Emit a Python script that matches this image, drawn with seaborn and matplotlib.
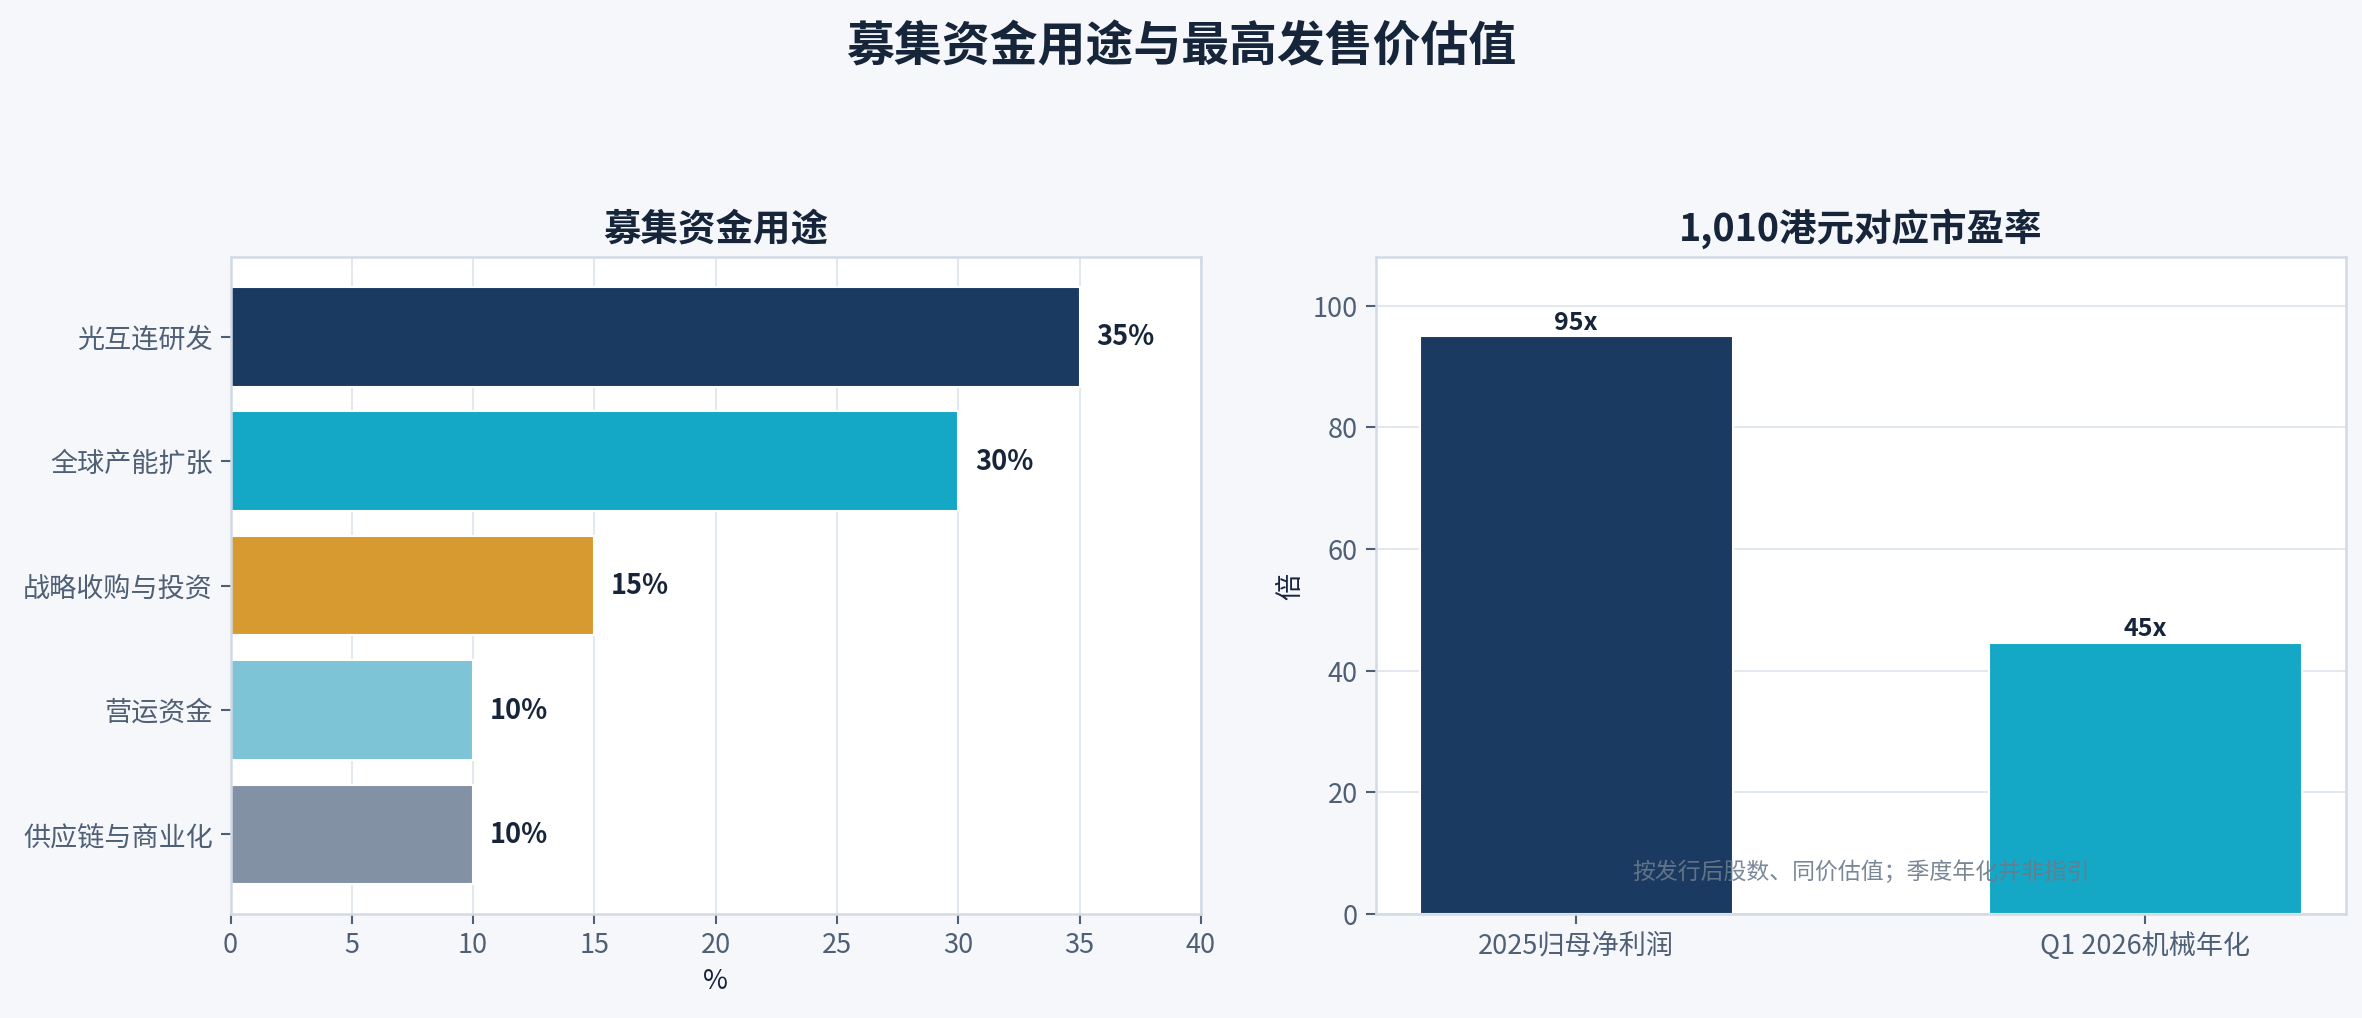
import matplotlib.pyplot as plt
import seaborn as sns

# 数据
use_labels = ["光互连研发", "全球产能扩张", "战略收购与投资", "营运资金", "供应链与商业化"]
use_pct = [35, 30, 15, 10, 10]
use_colors = ["#1a3a61", "#15a8c6", "#d69a30", "#7cc4d6", "#8391a5"]

pe_labels = ["2025归母净利润", "Q1 2026机械年化"]
pe_values = [95.0, 44.6]
pe_colors = ["#1a3a61", "#15a8c6"]

note = "按发行后股数、同价估值；季度年化并非指引"

sns.set_theme(style="whitegrid")
plt.rcParams["font.family"] = ["Noto Sans CJK SC", "DejaVu Sans"]
plt.rcParams["axes.unicode_minus"] = False

BG = "#f5f7fb"
DARK = "#17253b"
TICK = "#4f5f75"
GRID = "#e3e8ef"
SPINE = "#d3dae5"

fig, (ax1, ax2) = plt.subplots(1, 2, figsize=(15.75, 6.79), dpi=150)
fig.patch.set_facecolor(BG)
fig.subplots_adjust(left=0.0976, right=0.993, top=0.747, bottom=0.102, wspace=0.18)

# 左图：募集资金用途
sns.barplot(x=use_pct, y=use_labels, hue=use_labels, palette=use_colors,
            orient="h", width=0.8, legend=False, saturation=1, ax=ax1)
ax1.set_ylim(len(use_labels) - 0.36, -0.64)
ax1.set_xlim(0, 40)
ax1.set_xticks(range(0, 41, 5))
ax1.set_xlabel("%", fontsize=13, color=DARK)
ax1.set_ylabel("")
ax1.set_title("募集资金用途", fontsize=18, fontweight="bold", color=DARK, pad=8)
for i, v in enumerate(use_pct):
    ax1.annotate(f"{v}%", (v, i), xytext=(8, 0), textcoords="offset points",
                 va="center", ha="left", fontsize=13, fontweight="bold", color=DARK)
ax1.xaxis.grid(True, color=GRID, linewidth=1)
ax1.yaxis.grid(False)

# 右图：市盈率
sns.barplot(x=pe_labels, y=pe_values, hue=pe_labels, palette=pe_colors,
            width=0.55, legend=False, saturation=1, ax=ax2)
ax2.set_xlim(-0.3525, 1.3525)
ax2.set_ylim(0, 108)
ax2.set_yticks(range(0, 101, 20))
ax2.set_ylabel("倍", fontsize=13, color=DARK)
ax2.set_xlabel("")
ax2.set_title("1,010港元对应市盈率", fontsize=18, fontweight="bold", color=DARK, pad=8)
for i, v in enumerate(pe_values):
    ax2.annotate(f"{v:.0f}x", (i, v), xytext=(0, 1), textcoords="offset points",
                 va="bottom", ha="center", fontsize=12, fontweight="bold", color=DARK)
ax2.yaxis.grid(True, color=GRID, linewidth=1)
ax2.xaxis.grid(False)
ax2.text(0.5, 0.064, note, transform=ax2.transAxes, ha="center", va="center",
         fontsize=11, color="#6b7a8c", alpha=0.9, zorder=5)

for ax in (ax1, ax2):
    ax.set_facecolor("white")
    ax.set_axisbelow(True)
    for s in ax.spines.values():
        s.set_color(SPINE)
        s.set_linewidth(1.2)
    ax.tick_params(axis="both", labelsize=13, colors=TICK, length=5, width=1,
                   bottom=True, left=True)

fig.suptitle("募集资金用途与最高发售价估值", fontsize=23, fontweight="bold",
             color=DARK, y=0.978)

fig.savefig("out.png", dpi=150, facecolor=BG)
